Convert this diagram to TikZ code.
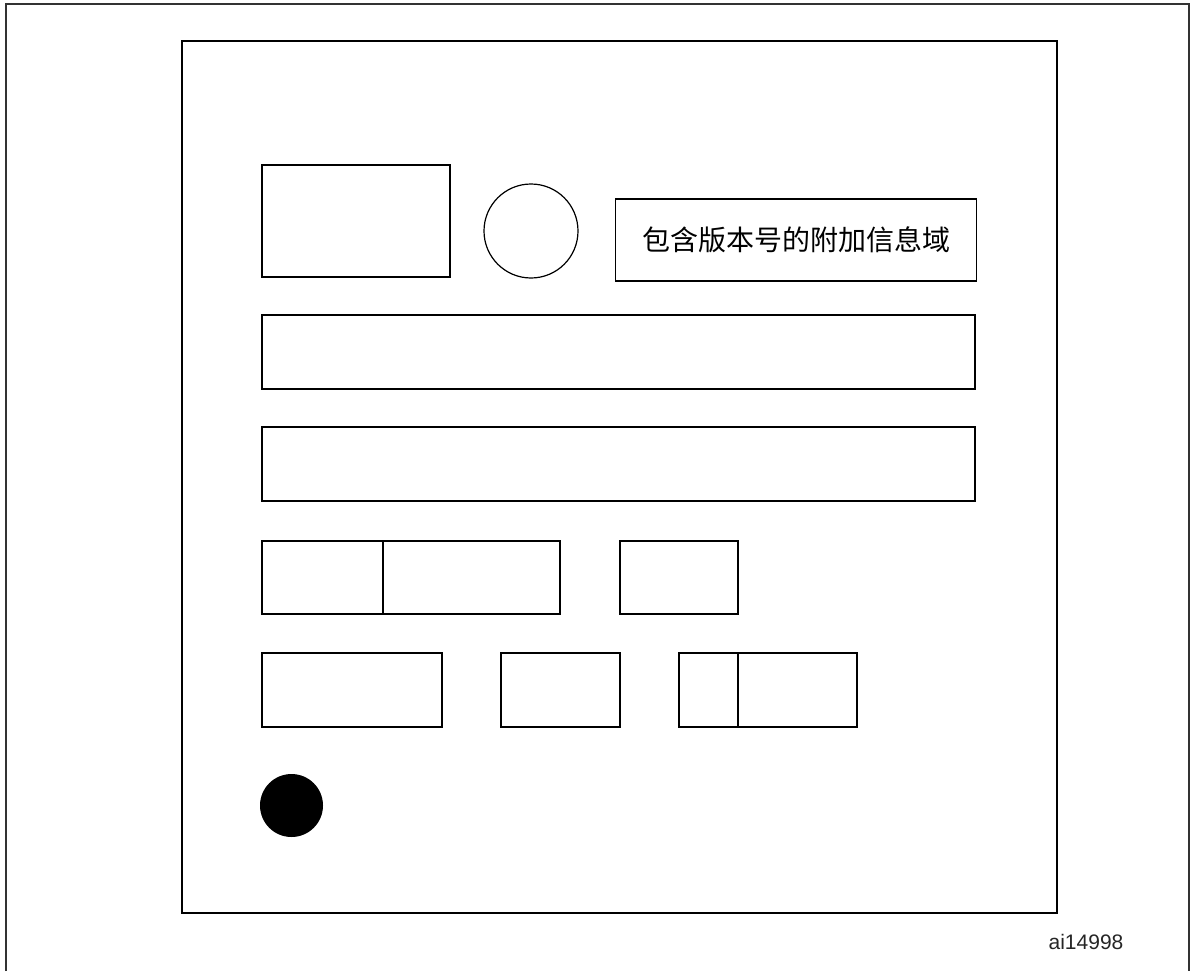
\documentclass[tikz,border=0pt]{standalone}
\usepackage{fontspec}
\setmainfont{Liberation Sans}
\newfontfamily\cjk{Noto Sans CJK SC}
\begin{document}
\begin{tikzpicture}[x=1pt, y=-1pt, line width=1.2pt]
        \useasboundingbox (0,0) rectangle (1193,971);
        % outer frame, open at the bottom
        \draw[black!80, line width=1.8pt] (6,971) -- (6,4) -- (1189,4) -- (1189,971);
        % inner frame
        \draw[black] (182,41) rectangle (1057,913);

        \coordinate (TL) at (262,165);
        \coordinate (TR) at (450,277);
        \draw[black] (TL) rectangle (TR);
        \draw[black] (531,231) circle (47);
        \node[draw, black, line width=1.8pt, minimum width=361pt, minimum height=82pt, inner sep=0pt,
              font=\cjk\fontsize{28}{34}\selectfont] (info) at (796,240) {包含版本号的附加信息域};

        \draw[black] (262,315) rectangle (975,389);
        \draw[black] (262,427) rectangle (975,501);

        \draw[black] (262,541) rectangle (560,614);
        \draw[black] (383,541) -- (383,614);
        \draw[black] (620,541) rectangle (738,614);

        \draw[black] (262,653) rectangle (442,727);
        \draw[black] (501,653) rectangle (620,727);
        \draw[black] (679,653) rectangle (857,727);
        \draw[black] (738,653) -- (738,727);

        \fill[black] (291.5,805.5) circle (31.5);

        \node[font=\fontsize{21}{25}\selectfont, black!85] (tag) at (1086,942) {ai14998};
    \end{tikzpicture}
\end{document}
